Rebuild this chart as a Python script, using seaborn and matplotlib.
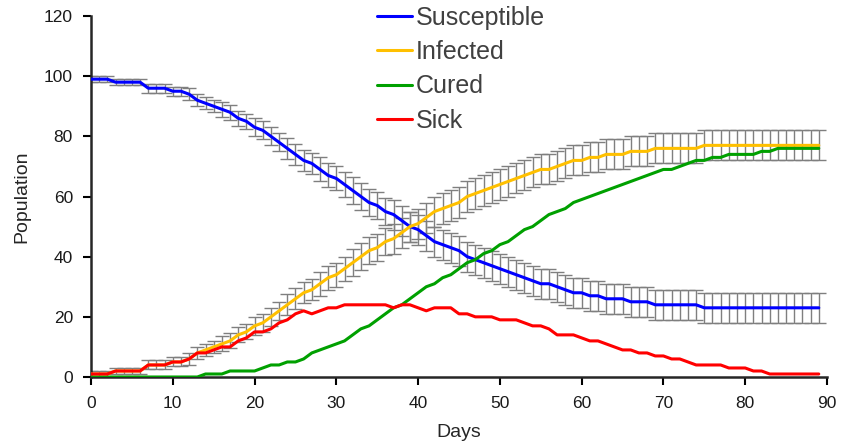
import pandas as pd
import numpy as np
import seaborn as sns
import matplotlib.pyplot as plt

days = list(range(90))

susceptible = [99, 99, 99, 98, 98, 98, 98, 96, 96, 96, 95, 95, 94, 92, 91, 90, 89, 88, 86, 85,
               83, 82, 80, 78, 76, 74, 72, 71, 69, 67, 66, 64, 62, 60, 58, 57, 55, 54, 52, 50,
               49, 47, 45, 44, 43, 42, 40, 39, 38, 37, 36, 35, 34, 33, 32, 31, 31, 30, 29, 28,
               28, 27, 27, 26, 26, 26, 25, 25, 25, 24, 24, 24, 24, 24, 24, 23, 23, 23, 23, 23,
               23, 23, 23, 23, 23, 23, 23, 23, 23, 23]
infected = [1, 1, 1, 2, 2, 2, 2, 4, 4, 4, 5, 5, 6, 8, 9, 10, 11, 12, 14, 15,
            17, 18, 20, 22, 24, 26, 28, 29, 31, 33, 34, 36, 38, 40, 42, 43, 45, 46, 48, 50,
            51, 53, 55, 56, 57, 58, 60, 61, 62, 63, 64, 65, 66, 67, 68, 69, 69, 70, 71, 72,
            72, 73, 73, 74, 74, 74, 75, 75, 75, 76, 76, 76, 76, 76, 76, 77, 77, 77, 77, 77,
            77, 77, 77, 77, 77, 77, 77, 77, 77, 77]
cured = [0, 0, 0, 0, 0, 0, 0, 0, 0, 0, 0, 0, 0, 0, 1, 1, 1, 2, 2, 2,
         2, 3, 4, 4, 5, 5, 6, 8, 9, 10, 11, 12, 14, 16, 17, 19, 21, 23, 24, 26,
         28, 30, 31, 33, 34, 36, 38, 39, 41, 42, 44, 45, 47, 49, 50, 52, 54, 55, 56, 58,
         59, 60, 61, 62, 63, 64, 65, 66, 67, 68, 69, 69, 70, 71, 72, 72, 73, 73, 74, 74,
         74, 74, 75, 75, 76, 76, 76, 76, 76, 76]
sick = [1, 1, 1, 2, 2, 2, 2, 4, 4, 4, 5, 5, 6, 8, 8, 9, 10, 10, 12, 13,
        15, 15, 16, 18, 19, 21, 22, 21, 22, 23, 23, 24, 24, 24, 24, 24, 24, 23, 24, 24,
        23, 22, 23, 23, 23, 21, 21, 20, 20, 20, 19, 19, 19, 18, 17, 17, 16, 14, 14, 14,
        13, 12, 12, 11, 10, 9, 9, 8, 8, 7, 7, 6, 6, 5, 4, 4, 4, 4, 3, 3,
        3, 2, 2, 1, 1, 1, 1, 1, 1, 1]
# error bar half-width (same for susceptible and infected)
err = [1, 1, 1, 1, 1, 1, 1, 1.5, 1.5, 1.5, 1.5, 1.5, 2, 2, 2, 2, 2.5, 2.5, 2.5, 2.5,
       3, 3, 3, 3, 3.5, 3.5, 3.5, 3.5, 4, 4, 4, 4, 4.5, 4.5, 4.5, 4.5, 4.5, 5, 5, 5] + [5] * 50

series_names = ['Susceptible', 'Infected', 'Cured', 'Sick']
colors = ['#0000FF', '#FFC000', '#00A000', '#FF0000']

df = pd.DataFrame({'Days': days * 4,
                   'Population': susceptible + infected + cured + sick,
                   'Series': sum([[n] * len(days) for n in series_names], [])})

sns.set_style('ticks')
plt.rcParams['font.family'] = ['Liberation Sans', 'DejaVu Sans']

fig = plt.figure(figsize=(8.46, 4.46), dpi=100)
ax = fig.add_axes([0.1076, 0.1547, 0.8699, 0.8094])

for vals in (susceptible, infected):
    ax.errorbar(days, vals, yerr=err, fmt='none', ecolor='#7f7f7f',
                elinewidth=1, capsize=5, capthick=1, zorder=1)

sns.lineplot(data=df, x='Days', y='Population', hue='Series', hue_order=series_names,
             palette=colors, linewidth=2.2, ax=ax, zorder=3)

ax.set_xlim(0, 90)
ax.set_ylim(0, 120)
ax.set_xticks(range(0, 91, 10))
ax.set_yticks(range(0, 121, 20))
ax.tick_params(labelsize=12.5, length=6, width=1.5, colors='black', labelcolor='#1a1a1a')
ax.tick_params(axis='y', pad=7)
ax.tick_params(axis='x', pad=8)
for s in ('left', 'bottom'):
    ax.spines[s].set_linewidth(1.8)
sns.despine(ax=ax)
ax.set_xlabel('Days', fontsize=14, labelpad=9)
ax.set_ylabel('Population', fontsize=14, labelpad=10)

leg = ax.legend(loc='upper left', bbox_to_anchor=(0.4456, 0.987), bbox_transform=fig.transFigure,
                frameon=False, fontsize=18, handlelength=1.4, handletextpad=0.15,
                labelspacing=0.41, borderpad=0, borderaxespad=0, labelcolor='#404040')

fig.savefig('out.png', dpi=100)
